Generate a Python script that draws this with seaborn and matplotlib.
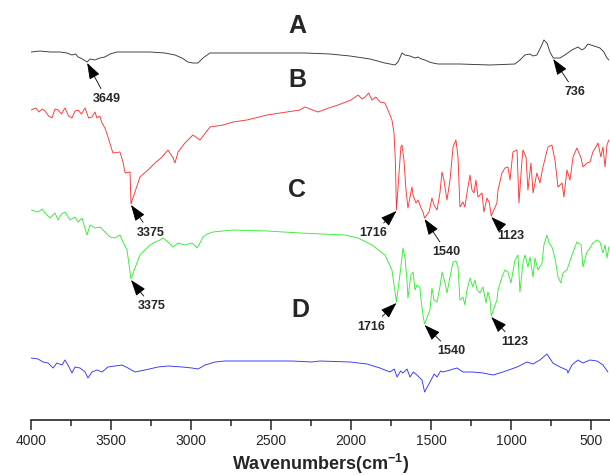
import numpy as np
import matplotlib
matplotlib.use("Agg")
import matplotlib.pyplot as plt
import seaborn as sns

# wavenumber (cm-1) and stacked signal (a.u., drawn on an inverted axis)
wn_a = [4000, 3944, 3881, 3819, 3775, 3744, 3720, 3706, 3690, 3669, 3649, 3631, 3600, 3569,
        3538, 3506, 3463, 3381, 3256, 3163, 3100, 3056, 3019, 2988, 2956, 2925, 2881, 2756,
        2569, 2381, 2288, 2131, 2006, 1881, 1788, 1725, 1706, 1681, 1663, 1631, 1600, 1581,
        1560, 1538, 1510, 1488, 1456, 1319, 1131, 975, 944, 913, 881, 863, 838, 813, 794,
        775, 756, 736, 694, 663, 619, 581, 556, 538, 519, 481, 444, 419, 400, 388]
sig_a = [52, 51, 52, 52, 53, 55, 54, 57, 58, 60, 62, 59, 60, 58,
         57, 54, 52, 52, 52, 53, 55, 58, 62, 63, 63, 58, 53, 53,
         53, 53, 53, 54, 56, 59, 63, 65, 62, 53, 55, 56, 58, 57,
         59, 60, 62, 63, 64, 64, 65, 64, 60, 55, 54, 56, 55, 47, 40,
         43, 52, 58, 58, 55, 50, 47, 50, 48, 44, 46, 48, 52, 58, 60]

wn_b = [4000, 3970, 3950, 3930, 3912, 3890, 3869, 3850, 3831, 3810, 3788, 3765, 3744, 3725,
        3706, 3685, 3662, 3640, 3619, 3600, 3588, 3570, 3556, 3538, 3519, 3488, 3444, 3425,
        3412, 3381, 3375, 3350, 3319, 3269, 3225, 3181, 3144, 3112, 3100, 3081, 3038, 2988,
        2944, 2881, 2800, 2738, 2650, 2525, 2400, 2319, 2288, 2206, 2140, 2081, 2000, 1956,
        1930, 1912, 1890, 1869, 1845, 1819, 1788, 1769, 1744, 1731, 1722, 1716, 1688, 1681,
        1669, 1656, 1644, 1619, 1612, 1594, 1581, 1562, 1550, 1540, 1512, 1494, 1481, 1462,
        1444, 1431, 1419, 1400, 1381, 1362, 1344, 1331, 1319, 1300, 1288, 1275, 1256, 1244,
        1231, 1219, 1206, 1181, 1169, 1150, 1135, 1123, 1088, 1081, 1056, 1038, 1019, 1006,
        988, 962, 950, 931, 925, 906, 894, 875, 862, 838, 819, 800, 769, 744,
        725, 706, 681, 669, 650, 631, 612, 588, 562, 550, 525, 506, 488, 469,
        456, 438, 425, 412, 400, 388]
sig_b = [110, 108, 112, 109, 111, 116, 118, 109, 110, 114, 108, 116, 118, 111,
         110, 114, 108, 118, 117, 112, 118, 116, 123, 128, 137, 153, 152, 162,
         173, 172, 204, 192, 177, 170, 163, 157, 150, 158, 163, 152, 143, 135,
         140, 127, 125, 122, 120, 115, 112, 110, 107, 112, 108, 105, 100, 95,
         99, 97, 93, 100, 97, 102, 103, 110, 120, 133, 163, 210, 147, 145,
         160, 190, 208, 187, 195, 203, 200, 208, 212, 218, 212, 198, 205, 210,
         193, 172, 180, 200, 180, 147, 140, 157, 207, 202, 207, 193, 175, 190,
         193, 180, 197, 193, 212, 198, 203, 216, 203, 190, 173, 168, 167, 180,
         152, 150, 203, 160, 150, 157, 190, 163, 193, 173, 183, 167, 147, 145,
         160, 187, 183, 197, 170, 180, 157, 148, 158, 167, 163, 162, 152, 147,
         143, 157, 147, 167, 145, 140]

wn_c = [4000, 3956, 3930, 3912, 3881, 3850, 3831, 3810, 3788, 3756, 3725, 3706, 3681, 3650,
        3631, 3600, 3569, 3538, 3506, 3475, 3444, 3425, 3400, 3375, 3350, 3319, 3288, 3256,
        3225, 3194, 3175, 3144, 3112, 3081, 3038, 2994, 2962, 2944, 2925, 2900, 2862, 2738,
        2525, 2319, 2038, 1956, 1869, 1788, 1744, 1716, 1688, 1675, 1662, 1650, 1644, 1625,
        1612, 1600, 1588, 1569, 1562, 1550, 1540, 1506, 1494, 1481, 1462, 1444, 1431, 1412,
        1400, 1381, 1362, 1344, 1331, 1319, 1300, 1288, 1275, 1256, 1238, 1225, 1212, 1194,
        1175, 1156, 1144, 1131, 1123, 1088, 1081, 1056, 1038, 1019, 1000, 975, 956, 944,
        925, 912, 894, 881, 862, 850, 831, 806, 794, 775, 762, 744, 725, 706,
        688, 675, 650, 625, 600, 588, 562, 550, 525, 506, 488, 462, 444, 425,
        412, 400, 388]
sig_c = [210, 212, 209, 213, 218, 213, 220, 214, 212, 220, 217, 222, 218, 235,
         225, 228, 227, 232, 237, 238, 235, 242, 250, 279, 268, 255, 250, 245,
         242, 240, 238, 242, 247, 243, 245, 243, 248, 243, 237, 234, 232, 230,
         231, 233, 235, 238, 245, 255, 270, 302, 267, 248, 258, 280, 298, 275,
         272, 290, 285, 288, 300, 315, 324, 310, 288, 300, 302, 287, 272, 283,
         293, 277, 262, 261, 267, 300, 297, 305, 290, 278, 287, 280, 290, 293,
         287, 303, 292, 300, 316, 300, 290, 277, 270, 272, 283, 260, 255, 292,
         263, 255, 267, 257, 277, 258, 270, 263, 245, 235, 243, 247, 258, 277,
         283, 273, 270, 258, 247, 242, 245, 267, 252, 248, 243, 240, 242, 253,
         245, 258, 247]

wn_d = [4000, 3956, 3925, 3894, 3862, 3838, 3806, 3788, 3769, 3744, 3725, 3694, 3662, 3644,
        3619, 3588, 3556, 3519, 3475, 3431, 3394, 3350, 3288, 3206, 3144, 3056, 2994, 2956,
        2912, 2850, 2788, 2581, 2369, 2244, 2194, 2006, 1900, 1819, 1756, 1730, 1712, 1690,
        1675, 1650, 1631, 1610, 1588, 1556, 1540, 1506, 1480, 1462, 1440, 1425, 1381, 1338,
        1300, 1238, 1175, 1112, 1050, 962, 900, 862, 819, 775, 738, 694, 650, 644,
        619, 581, 550, 506, 462, 425, 394]
sig_d = [358, 359, 362, 363, 368, 363, 365, 360, 365, 373, 367, 368, 372, 378,
         372, 370, 372, 367, 366, 365, 368, 372, 370, 367, 366, 367, 368, 369,
         365, 362, 361, 361, 361, 362, 361, 362, 364, 368, 372, 369, 377, 371,
         373, 369, 377, 372, 375, 380, 392, 382, 374, 377, 371, 372, 370, 368,
         372, 372, 373, 375, 372, 367, 362, 364, 360, 354, 363, 367, 370, 373,
         365, 360, 363, 360, 361, 365, 372]

sample_labels = ["A", "B", "C", "D"]
label_wn = [2337, 2337, 2337, 2319]
label_sig = [26, 80, 190, 310]

# (spectrum, band, text offset in points)
peaks = [("a", 3649, (14, -26)), ("a", 736, (16, -24)),
         ("b", 3375, (14, -20)), ("b", 1716, (-17, -16)), ("b", 1540, (16, -24)), ("b", 1123, (14, -14)),
         ("c", 3375, (15, -19)), ("c", 1716, (-18, -17)), ("c", 1540, (19, -19)), ("c", 1123, (17, -18))]

spectra = {"a": (wn_a, sig_a, "#383838"), "b": (wn_b, sig_b, "#ff3434"),
           "c": (wn_c, sig_c, "#34ee34"), "d": (wn_d, sig_d, "#3434ff")}

sns.set_style("white")
plt.rcParams["font.family"] = ["Liberation Sans", "DejaVu Sans"]
plt.rcParams["mathtext.fontset"] = "custom"
plt.rcParams["mathtext.rm"] = "Liberation Sans"
plt.rcParams["mathtext.bf"] = "Liberation Sans:bold"

fig = plt.figure(figsize=(6.1, 4.75), dpi=100)
ax = fig.add_axes([31 / 610, 55 / 475, 579 / 610, 420 / 475])

for key, (wn, sig, col) in spectra.items():
    sns.lineplot(x=wn, y=sig, ax=ax, color=col, linewidth=0.65, sort=False)

for lab, x, y in zip(sample_labels, label_wn, label_sig):
    ax.text(x, y, lab, fontsize=18, fontweight="bold", ha="center", va="center")

for key, band, off in peaks:
    wn, sig, _ = spectra[key]
    yv = np.interp(band, wn[::-1], sig[::-1])
    ax.annotate(str(band), xy=(band, yv + 1), xytext=off, textcoords="offset points",
                fontsize=9, fontweight="bold", ha="center", va="center",
                arrowprops=dict(arrowstyle="-|>,head_length=1.0,head_width=0.35",
                                color="black", lw=0.6, mutation_scale=10,
                                shrinkA=1, shrinkB=0))

ax.set_xlim(4000, 381)
ax.set_ylim(420, 0)
ax.set_xticks([4000, 3500, 3000, 2500, 2000, 1500, 1000, 500])
ax.set_xticks([3750, 3250, 2750, 2250, 1750, 1250, 750], minor=True)
ax.set_yticks([])
ax.tick_params(axis="x", which="major", direction="out", length=7, width=1.1,
               labelsize=10, pad=3, bottom=True)
ax.tick_params(axis="x", which="minor", direction="out", length=4, width=1.1, bottom=True)
for s in ["top", "right", "left"]:
    ax.spines[s].set_visible(False)
ax.spines["bottom"].set_linewidth(1.2)
ax.set_xlabel(r"Wavenumbers(cm$^{\mathbf{-1}}$)", fontsize=13, fontweight="bold", labelpad=3)
ax.set_ylabel("")

fig.savefig("out.png", dpi=100)
